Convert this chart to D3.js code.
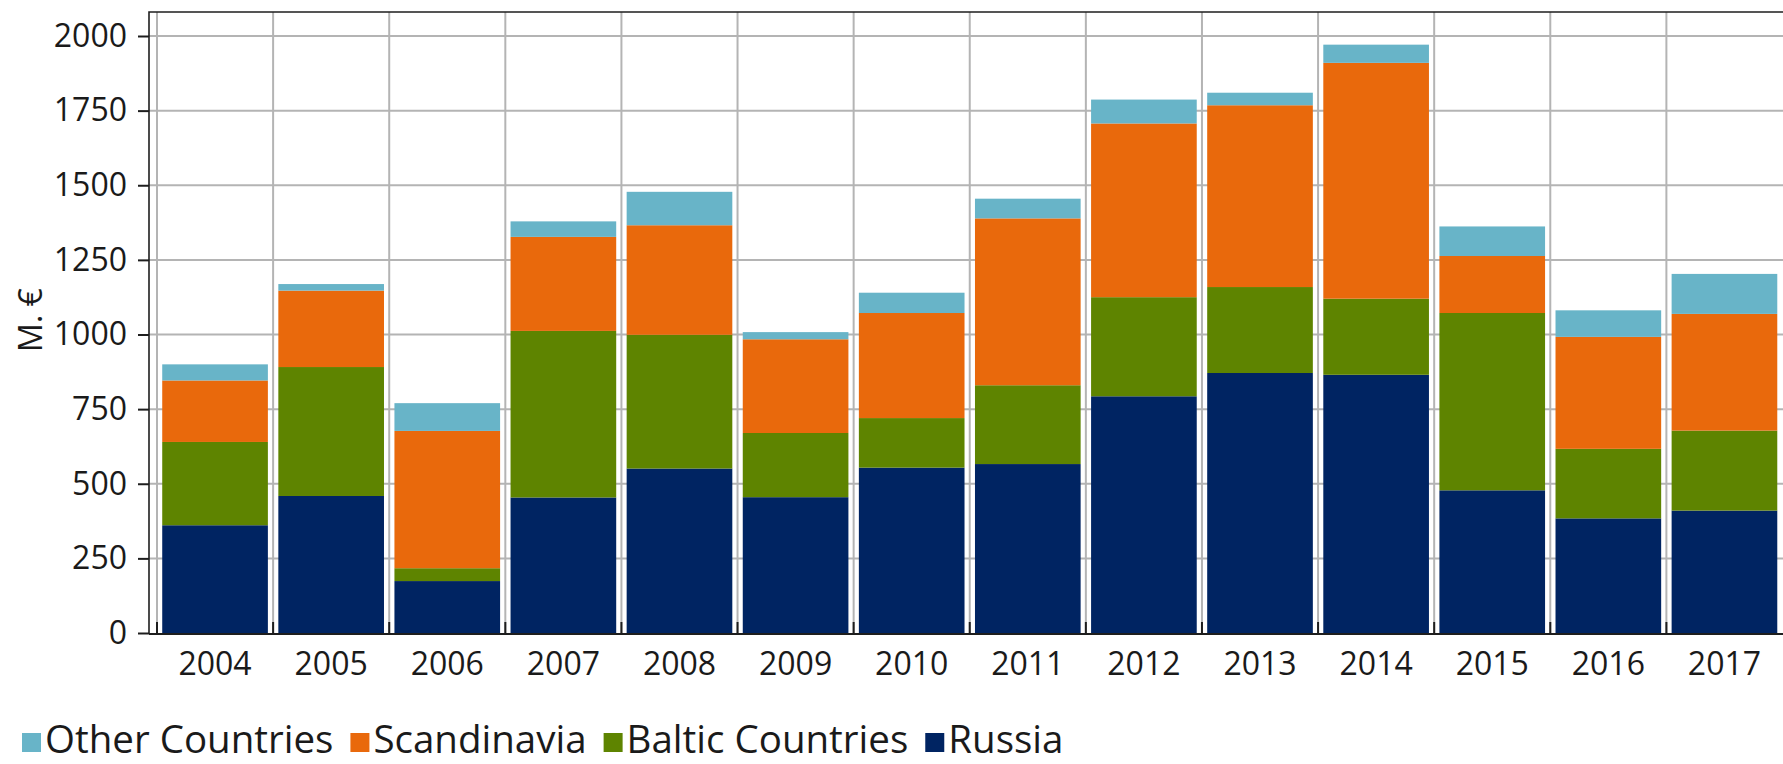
<!DOCTYPE html>
<meta charset="utf-8">

<style type="text/css">
    body {
        margin: 0;
        background: #fff;
    }

    svg {
        display: block;
        font-family: "Open Sans", sans-serif;
    }

    .grid line {
        stroke: #b4b4b4;
        stroke-width: 2;
    }

    .frame {
        stroke: #1e1e1e;
        stroke-width: 1.6;
        fill: none;
    }

    .axis text {
        fill: #1a1a1a;
    }

    .axis line {
        stroke: #1e1e1e;
        stroke-width: 2;
    }
</style>

<body>
</body>

<script type="text/javascript" src="https://d3js.org/d3.v7.min.js"></script>
<script>
    // values (M. €), stacked bottom to top
    var years = ["2004", "2005", "2006", "2007", "2008", "2009", "2010",
        "2011", "2012", "2013", "2014", "2015", "2016", "2017"];
    var russia = [361, 459, 174, 454, 551, 455, 554, 566, 793, 871, 865, 478, 384, 410];
    var baltic = [279, 432, 43, 558, 448, 215, 166, 264, 332, 288, 255, 594, 233, 268];
    var scandinavia = [206, 256, 460, 315, 367, 314, 352, 559, 582, 609, 790, 191, 375, 391];
    var otherCountries = [54, 22, 93, 52, 112, 24, 68, 66, 80, 42, 61, 99, 89, 134];

    var seriesNames = ["Russia", "Baltic Countries", "Scandinavia", "Other Countries"];
    var seriesColors = ["#002462", "#5e8400", "#e9690c", "#68b4c8"];
    var legendOrder = ["Other Countries", "Scandinavia", "Baltic Countries", "Russia"];
    var yTicks = [0, 250, 500, 750, 1000, 1250, 1500, 1750, 2000];
    var yTitle = "M. €";

    var width = 1783,
        height = 764;

    // plot frame (the right edge runs off the picture, as in the reference)
    var frame = { left: 149, top: 12, right: 1783, bottom: 634 };

    // table for d3.stack
    var table = years.map(function (y, i) {
        return {
            year: y,
            "Russia": russia[i],
            "Baltic Countries": baltic[i],
            "Scandinavia": scandinavia[i],
            "Other Countries": otherCountries[i]
        };
    });
    var stacked = d3.stack().keys(seriesNames)(table);
    var color = d3.scaleOrdinal().domain(seriesNames).range(seriesColors);

    // category cells (grid lines sit on their edges)
    var x = d3.scaleBand()
        .domain(years)
        .range([157, 1782.5]);

    // bars inside the cells
    var xBar = d3.scaleBand()
        .domain(years)
        .range(x.range())
        .paddingInner(0.09)
        .paddingOuter(0.045);

    var y = d3.scaleLinear()
        .domain([0, 2000])
        .range([633, 36]);

    var svg = d3.select("body").append("svg")
        .attr("width", width)
        .attr("height", height);

    // grid
    var grid = svg.append("g").attr("class", "grid");
    grid.selectAll("line.h")
        .data(yTicks.slice(1))
        .enter().append("line")
        .attr("class", "h")
        .attr("x1", frame.left)
        .attr("x2", frame.right)
        .attr("y1", d => y(d))
        .attr("y2", d => y(d));
    grid.selectAll("line.v")
        .data(years)
        .enter().append("line")
        .attr("class", "v")
        .attr("x1", d => x(d))
        .attr("x2", d => x(d))
        .attr("y1", frame.top)
        .attr("y2", frame.bottom);

    // stacked bars
    svg.append("g")
        .selectAll("g")
        .data(stacked)
        .enter().append("g")
        .attr("fill", d => color(d.key))
        .selectAll("rect")
        .data(d => d)
        .enter().append("rect")
        .attr("x", d => xBar(d.data.year))
        .attr("width", xBar.bandwidth())
        .attr("y", d => y(d[1]))
        .attr("height", d => y(d[0]) - y(d[1]));

    // frame lines
    svg.append("path")
        .attr("class", "frame")
        .attr("d", "M" + frame.right + "," + frame.top + "H" + frame.left + "V" + frame.bottom);
    svg.append("line")
        .attr("x1", frame.left)
        .attr("x2", frame.right)
        .attr("y1", frame.bottom)
        .attr("y2", frame.bottom)
        .attr("stroke", "#1e1e1e")
        .attr("stroke-width", 2.2);

    // small ticks on the category edges
    svg.append("g")
        .attr("class", "axis")
        .selectAll("line")
        .data(years)
        .enter().append("line")
        .attr("x1", d => x(d))
        .attr("x2", d => x(d))
        .attr("y1", frame.bottom - 12)
        .attr("y2", frame.bottom);

    // y axis
    var yAxis = svg.append("g")
        .attr("class", "axis")
        .attr("transform", "translate(" + frame.left + ",0)")
        .call(d3.axisLeft(y).tickValues(yTicks).tickFormat(d3.format("d"))
            .tickSize(11).tickPadding(11));
    yAxis.select(".domain").remove();
    yAxis.attr("font-family", "Open Sans").attr("font-size", 32);

    // x axis labels
    var xAxis = svg.append("g")
        .attr("class", "axis")
        .attr("transform", "translate(0," + frame.bottom + ")")
        .call(d3.axisBottom(x).tickSize(0).tickPadding(18));
    xAxis.select(".domain").remove();
    xAxis.attr("font-family", "Open Sans").attr("font-size", 32);

    // y title
    svg.append("text")
        .attr("transform", "translate(42,320) rotate(-90)")
        .style("text-anchor", "middle")
        .attr("font-size", "32px")
        .attr("fill", "#1a1a1a")
        .text(yTitle);

    // legend
    var legend = svg.append("g").attr("transform", "translate(22,753)");
    var lx = 0;
    legendOrder.forEach(function (name) {
        legend.append("rect")
            .attr("x", lx)
            .attr("y", -20)
            .attr("width", 19)
            .attr("height", 19)
            .attr("fill", color(name));
        var t = legend.append("text")
            .attr("x", lx + 23)
            .attr("y", 0)
            .attr("font-size", "38.5px")
            .attr("fill", "#1a1a1a")
            .text(name);
        lx += 23 + t.node().getComputedTextLength() + 17;
    });
</script>
